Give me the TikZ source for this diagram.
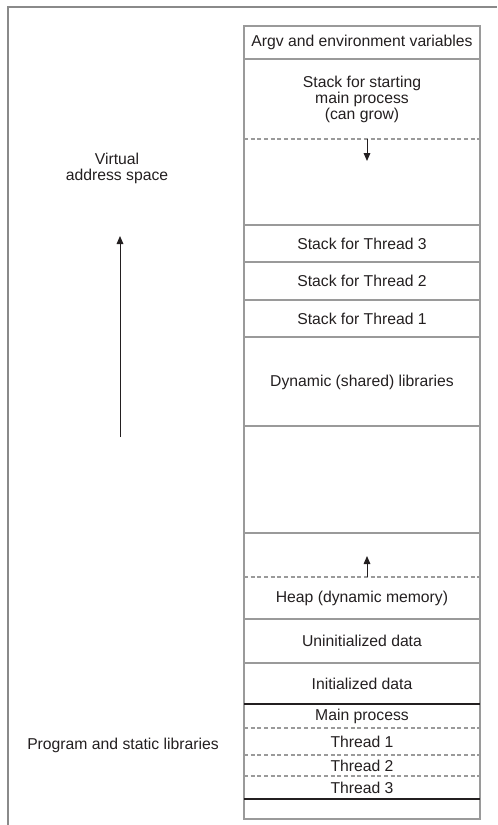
\documentclass[tikz,border=0pt]{standalone}
\usepackage{fontspec}
\setmainfont{Liberation Sans}
\usetikzlibrary{arrows.meta}
\definecolor{rulegray}{HTML}{9A9A9A}
\definecolor{framegray}{HTML}{8A8A8A}
\definecolor{inkdark}{HTML}{231F20}
\tikzset{
  cell/.style={draw=rulegray,line width=0.9pt},
  cut/.style={draw=rulegray,line width=0.9pt,dash pattern=on 3pt off 2pt},
  hard/.style={draw=inkdark,line width=0.9pt},
  lbl/.style={text=inkdark,font=\fontsize{11.8}{12}\selectfont,align=center,inner sep=0pt},
  growarrow/.style={draw=inkdark,line width=0.75pt,-{Triangle[length=6pt,width=5pt]}}
}
\begin{document}
\begin{tikzpicture}[x=0.75pt,y=-0.75pt]
        \useasboundingbox (0,0) rectangle (497,825);
        % outer frame
        \draw[draw=framegray,line width=1.6pt] (8,825) -- (8,7) -- (497,7);
        % memory column
        \draw[cell] (244,26) rectangle (480,819);
        \foreach \y in {59,225,262,300,337,426,533,619,663}
            \draw[cell] (244,\y) -- (480,\y);
        \foreach \y in {139,577,728,755,776}
            \draw[cut] (244,\y) -- (480,\y);
        \draw[hard] (244,704) -- (480,704);
        \draw[hard] (244,799) -- (480,799);
        % region labels
        \node[lbl] (argv) at (362,42.5) {Argv and environment variables};
        \node[lbl] (mainstack) at (362,99) {Stack for starting\\main process\\(can grow)};
        \node[lbl] (stack3) at (362,243.5) {Stack for Thread 3};
        \node[lbl] (stack2) at (362,281) {Stack for Thread 2};
        \node[lbl] (stack1) at (362,318.5) {Stack for Thread 1};
        \node[lbl] (dynlib) at (362,382) {Dynamic (shared) libraries};
        \node[lbl] (heap) at (362,598) {Heap (dynamic memory)};
        \node[lbl] (bss) at (362,641) {Uninitialized data};
        \node[lbl] (data) at (362,683.5) {Initialized data};
        \node[lbl] (textmain) at (362,716.5) {Main process};
        \node[lbl] (text1) at (362,741.5) {Thread 1};
        \node[lbl] (text2) at (362,766) {Thread 2};
        \node[lbl] (text3) at (362,788) {Thread 3};
        % growth arrows
        \coordinate (stacktop) at (367,139);
        \coordinate (stackend) at (367,161);
        \draw[growarrow] (stacktop) -- (stackend);
        \coordinate (heaptop) at (367,577);
        \coordinate (heapend) at (367,556);
        \draw[growarrow] (heaptop) -- (heapend);
        % left side
        \node[lbl] (vas) at (117,168) {Virtual\\address space};
        \coordinate (vaslow) at (120,437);
        \coordinate (vashigh) at (120,236);
        \draw[growarrow] (vaslow) -- (vashigh);
        \node[lbl] (prog) at (123,745) {Program and static libraries};
\end{tikzpicture}
\end{document}
